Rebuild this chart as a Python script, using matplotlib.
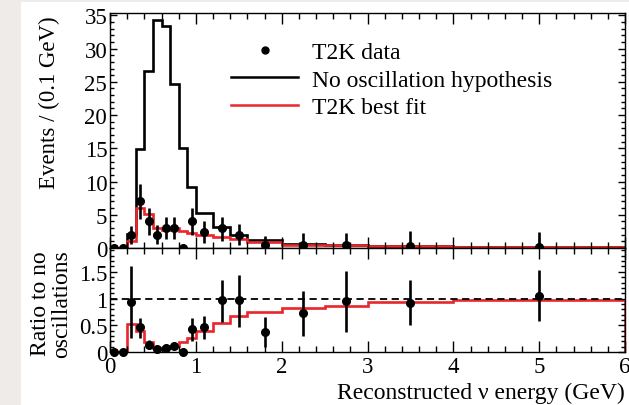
import numpy as np
import matplotlib
matplotlib.use('Agg')
import matplotlib.pyplot as plt
from matplotlib.patches import Rectangle
from matplotlib.lines import Line2D
from matplotlib.ticker import MultipleLocator

plt.rcParams['font.family'] = ['Liberation Serif', 'DejaVu Serif']

# binning (GeV)
edges = [0.0, 0.1, 0.2, 0.3, 0.4, 0.5, 0.6, 0.7, 0.8, 0.9, 1.0,
         1.2, 1.4, 1.6, 2.0, 2.5, 3.0, 4.0, 6.0]
centres = [0.05, 0.15, 0.25, 0.35, 0.45, 0.55, 0.65, 0.75, 0.85, 0.95,
           1.1, 1.3, 1.5, 1.8, 2.25, 2.75, 3.5, 5.0]

# events / 0.1 GeV
no_osc = [0.0, 0.0, 2.15, 14.9, 26.7, 34.3, 33.4, 24.6, 15.05, 9.2,
          5.2, 3.1, 2.0, 1.15, 0.6, 0.45, 0.33, 0.1]
best_fit = [0.0, 0.0, 1.05, 6.0, 5.1, 3.0, 2.7, 2.95, 2.6, 2.3,
            1.95, 1.65, 1.35, 0.85, 0.5, 0.4, 0.3, 0.095]
data = [0, 0, 2, 7, 4, 2, 3, 3, 0, 4, 2.4, 3.0, 1.9, 0.45, 0.4, 0.4, 0.3, 0.1]
data_lo = [0, 0, 0.55, 4.35, 2.0, 0.6, 1.3, 1.3, 0, 2.0, 0.8, 1.0, 0.4, 0.0, 0.0, 0.0, 0.0, 0.0]
data_hi = [0, 0, 3.3, 9.65, 6.0, 3.4, 4.7, 4.7, 0, 6.0, 4.05, 4.65, 3.65, 1.75, 2.25, 2.25, 2.55, 2.4]

# ratio to no oscillations
ratio_fit = [0.0, 0.0, 0.53, 0.40, 0.19, 0.08, 0.07, 0.11, 0.18, 0.27,
             0.39, 0.55, 0.67, 0.75, 0.82, 0.87, 0.93, 0.98]
ratio_data = [0, 0, 0.94, 0.46, 0.14, 0.05, 0.075, 0.11, 0, 0.43,
              0.47, 0.97, 0.97, 0.375, 0.73, 0.945, 0.91, 1.05]
ratio_lo = [0, 0, 0.26, 0.27, 0.06, 0.03, 0.05, 0.05, 0, 0.21,
            0.25, 0.56, 0.46, 0.10, 0.30, 0.38, 0.50, 0.575]
ratio_hi = [0, 0, 1.60, 0.63, 0.22, 0.08, 0.11, 0.19, 0, 0.63,
            0.68, 1.35, 1.44, 0.66, 1.14, 1.51, 1.345, 1.53]

red = '#e8262b'
W, H = 629, 406

fig = plt.figure(figsize=(W / 100, H / 100), dpi=100, facecolor='#eeebe8')
fig.add_artist(Rectangle((21 / W, 0), 1, 1 - 3 / H, transform=fig.transFigure,
                         facecolor='white', edgecolor='none', zorder=-1))

ax1 = fig.add_axes([110 / W, 1 - 249 / H, 515 / W, 235 / H])
ax2 = fig.add_axes([110 / W, 1 - 353 / H, 515 / W, 104 / H])


def style(ax, ymajor, yminor):
    ax.set_xlim(0, 6)
    ax.xaxis.set_major_locator(MultipleLocator(1))
    ax.xaxis.set_minor_locator(MultipleLocator(0.2))
    ax.yaxis.set_major_locator(MultipleLocator(ymajor))
    ax.yaxis.set_minor_locator(MultipleLocator(yminor))
    ax.tick_params(which='both', direction='in', top=True, right=True,
                   width=1.0, labelsize=16.5)
    ax.tick_params(axis='x', which='major', length=8, pad=3)
    ax.tick_params(axis='x', which='minor', length=4.3)
    ax.tick_params(axis='y', which='major', length=5.3, pad=2)
    ax.tick_params(axis='y', which='minor', length=2.9)
    for s in ax.spines.values():
        s.set_linewidth(1.0)


# upper panel
style(ax1, 5, 1)
ax1.set_ylim(0, 35.35)
ax1.tick_params(axis='x', labelbottom=False)
ax1.stairs(no_osc, edges, color='k', lw=1.9)
ax1.stairs(best_fit, edges, color=red, lw=1.9)
d = np.array(data, float)
ax1.errorbar(centres, d, yerr=[d - np.array(data_lo), np.array(data_hi) - d],
             fmt='o', color='k', ms=5.5, elinewidth=1.9, capsize=0, clip_on=False, zorder=5)

handles = [Line2D([], [], marker='o', ls='none', color='k', ms=5),
           Line2D([], [], color='k', lw=1.8),
           Line2D([], [], color=red, lw=1.8)]
ax1.legend(handles, ['T2K data', 'No oscillation hypothesis', 'T2K best fit'],
           loc='upper left', bbox_to_anchor=(0.235, 0.878), frameon=False,
           fontsize=17, handlelength=2.85, handletextpad=0.6,
           labelspacing=0.25, borderpad=0, borderaxespad=0)

# lower panel
style(ax2, 0.5, 0.1)
ax2.set_ylim(0, 1.946)
ax2.axhline(1, color='k', lw=1.3, ls=(0, (4, 2.5)))
ax2.stairs(ratio_fit, edges, color=red, lw=1.9)
r = np.array(ratio_data, float)
ax2.errorbar(centres, r, yerr=[r - np.array(ratio_lo), np.array(ratio_hi) - r],
             fmt='o', color='k', ms=5.5, elinewidth=1.9, capsize=0, clip_on=False, zorder=5)
ax2.set_xticks([0, 1, 2, 3, 4, 5, 6], ['0', '1', '2', '3', '4', '5', '6'])
ax2.set_yticks([0, 0.5, 1, 1.5], ['0', '0.5', '1', '1.5'])

fig.text(625 / W, 1 - 393 / H, 'Reconstructed ν energy (GeV)', ha='right', va='center', fontsize=17)
fig.text(49 / W, 1 - 103 / H, 'Events / (0.1 GeV)', rotation=90, ha='center', va='center', fontsize=16.5)
fig.text(51 / W, 1 - 304 / H, 'Ratio to no\noscillations', rotation=90, ha='center', va='center',
         multialignment='center', linespacing=1.0, fontsize=17)

fig.savefig('out.png', dpi=100, facecolor=fig.get_facecolor())
